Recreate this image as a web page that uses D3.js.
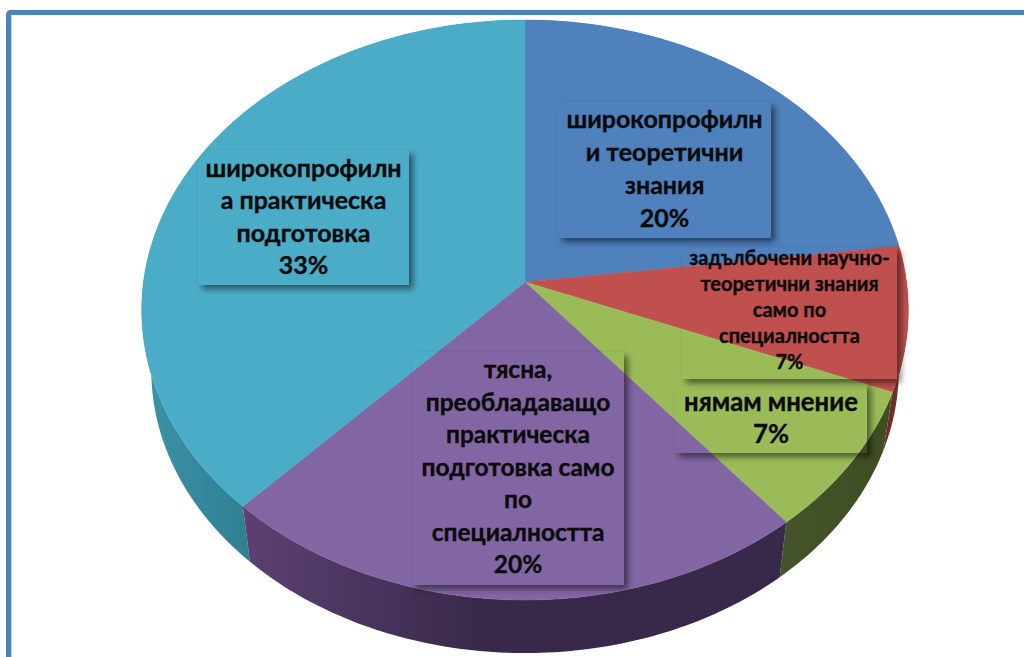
<!DOCTYPE html>
<html><head><meta charset="utf-8">
<script src="https://cdn.jsdelivr.net/npm/d3@7"></script>
<style>html,body{margin:0;padding:0;background:#fff;overflow:hidden}svg{display:block}</style>
</head><body><svg id="c" width="1024" height="657"></svg>
<script>
const categories = ["широкопрофилни теоретични знания","задълбочени научно-теоретични знания само по специалността","нямам мнение","тясна, преобладаващо практическа подготовка само по специалността","широкопрофилна практическа подготовка"];
const values = [20,7,7,20,33];
const labelLines = [
 ["широкопрофилн","и теоретични","знания","20%"],
 ["задълбочени научно-","теоретични знания","само по","специалността","7%"],
 ["нямам мнение","7%"],
 ["тясна,","преобладаващо","практическа","подготовка само","по","специалността","20%"],
 ["широкопрофилн","а практическа","подготовка","33%"]
];
const topColors = ["#4f81bd","#c0504d","#9bbb59","#8265a3","#4bacc8"];
const wallFrom = ["#3a6595","#8e3a38","#45532a","#5c4172","#3d93a8"];
const wallTo = ["#3a6595","#6e2c2a","#3f4d22","#38294a","#2f7f92"];
// label box layout, in slice order: x0,y0,x1,y1, font size, first baseline, line step
const boxes = [
 [558,102,771,238,25,128,33],
 [682,247,897,379,20,265,26],
 [675,383,867,453,25.7,411,32],
 [412,352,624,585,24.5,378,32.5],
 [198,150,409,285,25,177,32.4]
];
const W=1024,H=657;
const svg=d3.select("#c");
const defs=svg.append("defs");
const f=defs.append("filter").attr("id","sh").attr("x","-10%").attr("y","-10%").attr("width","125%").attr("height","125%");
f.append("feGaussianBlur").attr("in","SourceAlpha").attr("stdDeviation",3).attr("result","b");
f.append("feOffset").attr("in","b").attr("dx",4).attr("dy",3.5).attr("result","o");
f.append("feFlood").attr("flood-color","#000").attr("flood-opacity",0.5).attr("result","c");
f.append("feComposite").attr("in","c").attr("in2","o").attr("operator","in").attr("result","s");
f.append("feComposite").attr("in","s").attr("in2","SourceAlpha").attr("operator","out");

// frame
svg.append("rect").attr("x",8.5).attr("y",12.5).attr("width",1100).attr("height",800).attr("rx",2)
   .attr("fill","#fff").attr("stroke","#4f81bd").attr("stroke-width",5);
svg.append("line").attr("x1",11.5).attr("x2",11.5).attr("y1",15).attr("y2",H).attr("stroke","#c5d6ea").attr("stroke-width",1);

// perspective disc
const ox=525, oy=282, k=0.0966;
const sx=d3.scaleLinear().domain([-1,1]).range([-381.5,381.5]);
const sy=d3.scaleLinear().domain([-1,1]).range([-287.3,287.3]);
const proj=(a,s,dy)=>{const X=Math.sin(a),Y=-Math.cos(a),d=1-k*Y;
  return [ox+s*sx(X)/d, oy+dy+s*sy(Y)/d];};
const pie=d3.pie().sort(null).startAngle(0).endAngle(2*Math.PI);
const arcs=pie(values);
const line=d3.line();
const arcPts=(a0,a1,s,dy)=>{const n=Math.max(2,Math.ceil((a1-a0)*60));
  return d3.range(n+1).map(i=>proj(a0+(a1-a0)*i/n,s,dy));};

arcs.forEach((d,i)=>{
  const g=defs.append("linearGradient").attr("id","w"+i).attr("gradientUnits","userSpaceOnUse")
    .attr("x1",i===3?245:(i===4?140:780)).attr("x2",i===3?480:(i===4?250:900)).attr("y1",0).attr("y2",0);
  g.append("stop").attr("offset",0).attr("stop-color",wallFrom[i]);
  g.append("stop").attr("offset",1).attr("stop-color",wallTo[i]);
});
const s2=0.975,dy2=61;
// side walls, back to front
[0,4,1,2,3].forEach(i=>{const d=arcs[i];
  const top=arcPts(d.startAngle,d.endAngle,1,0), bot=arcPts(d.startAngle,d.endAngle,s2,dy2).reverse();
  svg.append("path").attr("d",line(top.concat(bot))+"Z").attr("fill","url(#w"+i+")");
});
// top faces
arcs.forEach((d,i)=>{
  svg.append("path").attr("d",line([[ox,oy]].concat(arcPts(d.startAngle,d.endAngle,1,0)))+"Z")
    .attr("fill",topColors[i]).attr("stroke",topColors[i]).attr("stroke-width",0.5);
});
// label shadows then text
boxes.forEach((b,i)=>{
  svg.append("rect").attr("x",b[0]).attr("y",b[1]).attr("width",b[2]-b[0]).attr("height",b[3]-b[1])
    .attr("fill","#000").attr("filter","url(#sh)");
});
boxes.forEach((b,i)=>{
  const cx=(b[0]+b[2])/2;
  svg.append("text").attr("text-anchor","middle").attr("font-family","Lato, 'Open Sans', sans-serif")
    .attr("font-weight",700).attr("font-size",b[4]).attr("fill","#0a0a0a")
    .attr("stroke","#0a0a0a").attr("stroke-width",0.35)
    .selectAll("tspan").data(labelLines[i]).join("tspan")
    .attr("x",cx).attr("y",(t,j)=>b[5]+j*b[6]).text(t=>t);
});
</script></body></html>
